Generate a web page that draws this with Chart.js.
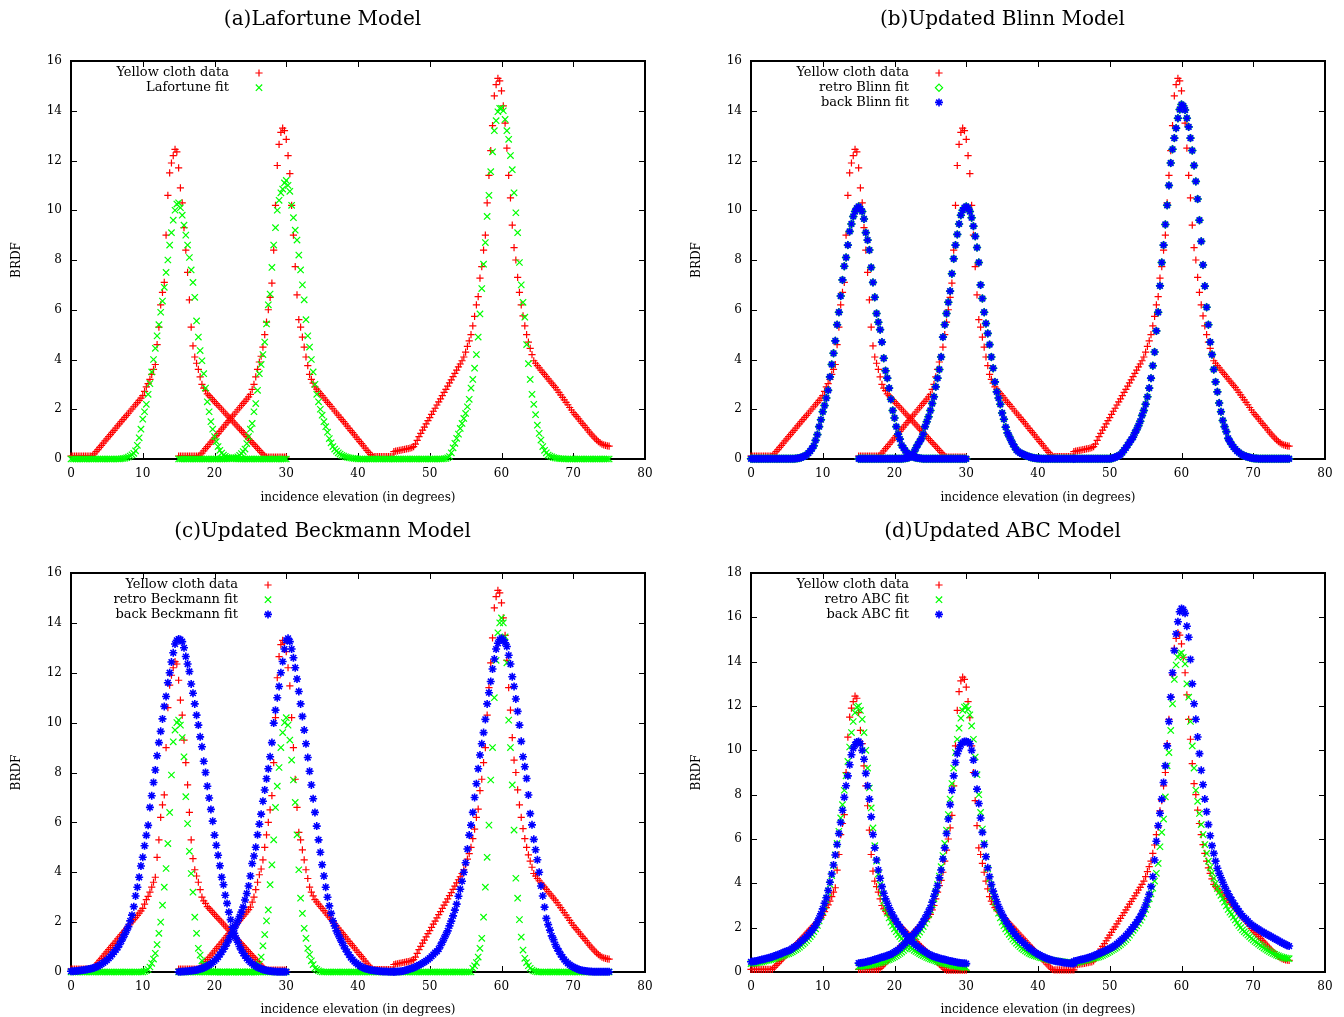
<!DOCTYPE html>
<html>
<head>
<meta charset="utf-8">
<script src="https://cdn.jsdelivr.net/npm/chart.js@4.4.1/dist/chart.umd.min.js"></script>
<style>
  body { margin: 0; background: #fff; width: 1344px; height: 1017px; position: relative; overflow: hidden; }
  .panel { position: absolute; }
</style>
</head>
<body>
<div class="panel" style="left:0;top:0"><canvas id="chartA" width="672" height="505"></canvas></div>
<div class="panel" style="left:680px;top:0"><canvas id="chartB" width="672" height="505"></canvas></div>
<div class="panel" style="left:0;top:512px"><canvas id="chartC" width="672" height="505"></canvas></div>
<div class="panel" style="left:680px;top:512px"><canvas id="chartD" width="672" height="505"></canvas></div>
<script>
// incidence elevation of each measurement sweep (degrees), one row per degree
const anglesSweep1 = [
  0,0.25,0.5,0.75, 1,1.25,1.5,1.75, 2,2.25,2.5,2.75, 3,3.25,3.5,3.75, 4,4.25,4.5,4.75,
  5,5.25,5.5,5.75, 6,6.25,6.5,6.75, 7,7.25,7.5,7.75, 8,8.25,8.5,8.75, 9,9.25,9.5,9.75,
  10,10.25,10.5,10.75, 11,11.25,11.5,11.75, 12,12.25,12.5,12.75, 13,13.25,13.5,13.75, 14,14.25,14.5,14.75,
  15,15.25,15.5,15.75, 16,16.25,16.5,16.75, 17,17.25,17.5,17.75, 18,18.25,18.5,18.75, 19,19.25,19.5,19.75,
  20,20.25,20.5,20.75, 21,21.25,21.5,21.75, 22,22.25,22.5,22.75, 23,23.25,23.5,23.75, 24,24.25,24.5,24.75,
  25,25.25,25.5,25.75, 26,26.25,26.5,26.75, 27,27.25,27.5,27.75, 28,28.25,28.5,28.75, 29,29.25,29.5,29.75,
  30];
const anglesSweep2 = [
  15,15.25,15.5,15.75, 16,16.25,16.5,16.75, 17,17.25,17.5,17.75, 18,18.25,18.5,18.75, 19,19.25,19.5,19.75,
  20,20.25,20.5,20.75, 21,21.25,21.5,21.75, 22,22.25,22.5,22.75, 23,23.25,23.5,23.75, 24,24.25,24.5,24.75,
  25,25.25,25.5,25.75, 26,26.25,26.5,26.75, 27,27.25,27.5,27.75, 28,28.25,28.5,28.75, 29,29.25,29.5,29.75,
  30,30.25,30.5,30.75, 31,31.25,31.5,31.75, 32,32.25,32.5,32.75, 33,33.25,33.5,33.75, 34,34.25,34.5,34.75,
  35,35.25,35.5,35.75, 36,36.25,36.5,36.75, 37,37.25,37.5,37.75, 38,38.25,38.5,38.75, 39,39.25,39.5,39.75,
  40,40.25,40.5,40.75, 41,41.25,41.5,41.75, 42,42.25,42.5,42.75, 43,43.25,43.5,43.75, 44,44.25,44.5,44.75,
  45];
const anglesSweep3 = [
  45,45.25,45.5,45.75, 46,46.25,46.5,46.75, 47,47.25,47.5,47.75, 48,48.25,48.5,48.75, 49,49.25,49.5,49.75,
  50,50.25,50.5,50.75, 51,51.25,51.5,51.75, 52,52.25,52.5,52.75, 53,53.25,53.5,53.75, 54,54.25,54.5,54.75,
  55,55.25,55.5,55.75, 56,56.25,56.5,56.75, 57,57.25,57.5,57.75, 58,58.25,58.5,58.75, 59,59.25,59.5,59.75,
  60,60.25,60.5,60.75, 61,61.25,61.5,61.75, 62,62.25,62.5,62.75, 63,63.25,63.5,63.75, 64,64.25,64.5,64.75,
  65,65.25,65.5,65.75, 66,66.25,66.5,66.75, 67,67.25,67.5,67.75, 68,68.25,68.5,68.75, 69,69.25,69.5,69.75,
  70,70.25,70.5,70.75, 71,71.25,71.5,71.75, 72,72.25,72.5,72.75, 73,73.25,73.5,73.75, 74,74.25,74.5,74.75,
  75];

// Yellow cloth measurements
const clothSweep1 = [
  0.12,0.12,0.12,0.12, 0.12,0.12,0.12,0.12, 0.12,0.12,0.12,0.12, 0.13,0.21,0.3,0.38, 0.47,0.55,0.64,0.73,
  0.81,0.9,0.98,1.07, 1.15,1.24,1.33,1.41, 1.5,1.58,1.67,1.75, 1.84,1.93,2.01,2.1, 2.18,2.27,2.36,2.45,
  2.55,2.72,2.9,3.03, 3.2,3.4,3.6,3.8, 4.6,5.3,6.2,6.7, 7.1,9.0,10.6,11.5, 11.9,12.2,12.45,12.35,
  11.7,10.9,10.3,9.3, 8.4,7.5,6.4,5.3, 4.55,4.1,3.85,3.6, 3.3,3.0,2.85,2.75, 2.62,2.55,2.47,2.39,
  2.31,2.23,2.15,2.08, 2.0,1.92,1.84,1.76, 1.68,1.61,1.53,1.45, 1.37,1.29,1.21,1.14, 1.06,0.98,0.9,0.82,
  0.74,0.66,0.59,0.51, 0.43,0.35,0.27,0.2, 0.12,0.08,0.08,0.08, 0.08,0.08,0.08,0.08, 0.08,0.08,0.08,0.08,
  0.08];
const clothSweep2 = [
  0.12,0.12,0.12,0.12, 0.12,0.12,0.12,0.12, 0.12,0.12,0.12,0.12, 0.16,0.24,0.33,0.42, 0.5,0.59,0.68,0.76,
  0.85,0.94,1.02,1.11, 1.2,1.28,1.37,1.46, 1.54,1.63,1.72,1.8, 1.89,1.98,2.06,2.15, 2.24,2.32,2.41,2.5,
  2.6,2.8,3.0,3.3, 3.6,3.9,4.13,4.5, 5.0,5.5,6.0,6.5, 7.07,8.4,10.2,11.8, 12.65,13.13,13.3,13.2,
  12.85,12.2,11.47,10.2, 9.0,7.73,6.6,5.6, 5.3,4.9,4.5,4.1, 3.75,3.4,3.2,3.05, 2.9,2.81,2.72,2.63,
  2.55,2.46,2.37,2.28, 2.2,2.11,2.02,1.93, 1.85,1.76,1.67,1.58, 1.5,1.41,1.32,1.23, 1.14,1.06,0.97,0.88,
  0.79,0.7,0.62,0.53, 0.44,0.35,0.27,0.18, 0.12,0.1,0.1,0.1, 0.1,0.1,0.1,0.1, 0.1,0.1,0.1,0.1,
  0.1];
const clothSweep3 = [
  0.3,0.32,0.33,0.35, 0.36,0.38,0.39,0.41, 0.42,0.44,0.46,0.5, 0.6,0.75,0.9,1.03, 1.16,1.28,1.41,1.54,
  1.66,1.79,1.92,2.04, 2.17,2.3,2.42,2.55, 2.68,2.8,2.93,3.06, 3.18,3.31,3.44,3.57, 3.7,3.82,3.95,4.1,
  4.3,4.53,4.75,5.0, 5.35,5.73,6.2,6.53, 7.27,7.73,8.4,9.0, 10.3,11.4,12.4,13.4, 14.6,15.05,15.3,15.2,
  14.8,14.2,13.5,12.5, 11.4,10.5,9.4,8.5, 8.0,7.3,6.7,6.2, 5.75,5.35,5.0,4.7, 4.45,4.2,3.95,3.85,
  3.75,3.66,3.57,3.48, 3.4,3.31,3.22,3.13, 3.05,2.96,2.88,2.78, 2.68,2.58,2.48,2.38, 2.28,2.18,2.07,1.97,
  1.87,1.78,1.7,1.61, 1.52,1.43,1.35,1.26, 1.17,1.08,1.0,0.92, 0.84,0.77,0.7,0.65, 0.6,0.57,0.55,0.53,
  0.52];

// (a) Lafortune fit
const lafortuneSweep1 = [
  0,0,0,0, 0,0,0,0, 0,0,0,0, 0,0,0,0, 0,0,0,0,
  0,0,0,0, 0,0,0,0, 0.01,0.02,0.03,0.05, 0.08,0.12,0.17,0.23, 0.33,0.55,0.85,1.2,
  1.6,1.9,2.2,2.6, 3.03,3.5,4.0,4.45, 4.95,5.4,5.9,6.35, 6.9,7.5,8.0,8.6, 9.1,9.6,10.0,10.25,
  10.3,10.1,9.8,9.4, 9.0,8.6,8.1,7.6, 7.1,6.5,5.55,4.9, 4.36,3.95,3.43,2.85, 2.3,1.9,1.5,1.2,
  0.9,0.7,0.5,0.35, 0.24,0.16,0.11,0.07, 0.05,0.03,0.02,0.01, 0,0,0,0, 0,0,0,0,
  0,0,0,0, 0,0,0,0, 0,0,0,0, 0,0,0,0, 0,0,0,0,
  0];
const lafortuneSweep2 = [
  0,0,0,0, 0,0,0,0, 0,0,0,0, 0,0,0,0, 0,0,0,0,
  0,0,0,0, 0,0,0,0, 0.01,0.02,0.03,0.04, 0.06,0.09,0.15,0.22, 0.3,0.4,0.62,0.9,
  1.2,1.43,1.9,2.23, 2.76,3.43,3.8,4.2, 4.7,5.43,6.2,6.63, 7.7,8.6,9.3,10.0, 10.4,10.7,10.85,11.1,
  11.2,11.0,10.76,10.2, 9.7,9.2,8.8,8.2, 7.6,7.0,6.4,5.6, 4.95,4.5,4.0,3.5, 3.0,2.6,2.3,2.0,
  1.76,1.5,1.3,1.08, 0.82,0.65,0.5,0.4, 0.32,0.25,0.2,0.15, 0.12,0.09,0.07,0.05, 0.04,0.03,0.02,0.01,
  0,0,0,0, 0,0,0,0, 0,0,0,0, 0,0,0,0, 0,0,0,0,
  0];
const lafortuneSweep3 = [
  0,0,0,0, 0,0,0,0, 0,0,0,0, 0,0,0,0, 0,0,0,0,
  0,0,0,0, 0,0,0,0, 0.01,0.02,0.05,0.1, 0.25,0.45,0.63,0.83, 1.0,1.23,1.43,1.63,
  1.83,2.1,2.4,2.85, 3.2,3.65,4.2,4.9, 5.83,6.85,7.83,8.7, 9.75,10.6,11.55,12.35, 13.2,13.6,13.96,14.1,
  14.1,14.0,13.65,13.2, 12.85,12.2,11.63,10.7, 9.9,9.1,7.9,7.0, 6.3,5.7,4.6,3.83, 3.2,2.6,2.2,1.78,
  1.36,1.03,0.76,0.5, 0.35,0.25,0.16,0.12, 0.09,0.06,0.04,0.03, 0.02,0.01,0.01,0, 0,0,0,0,
  0,0,0,0, 0,0,0,0, 0,0,0,0, 0,0,0,0, 0,0,0,0,
  0];

// (b) Blinn fit (the retro and back fits coincide)
const blinnSweep1 = [
  0.01,0.01,0.01,0.01, 0.01,0.01,0.01,0.01, 0.01,0.01,0.01,0.01, 0.01,0.01,0.01,0.01, 0.01,0.01,0.01,0.01,
  0.01,0.01,0.01,0.01, 0.01,0.02,0.03,0.04, 0.06,0.09,0.12,0.17, 0.24,0.32,0.42,0.53, 0.75,0.98,1.3,1.58,
  1.9,2.15,2.45,2.76, 3.3,3.8,4.25,4.75, 5.4,5.9,6.55,7.2, 7.75,8.1,8.6,9.15, 9.45,9.75,9.95,10.08,
  10.15,10.05,9.95,9.65, 9.1,8.8,8.4,7.7, 7.1,6.5,5.85,5.5, 5.2,4.7,4.05,3.55, 3.25,2.85,2.4,1.95,
  1.65,1.3,1.0,0.8, 0.55,0.45,0.34,0.25, 0.19,0.14,0.1,0.07, 0.05,0.04,0.03,0.02, 0.01,0.01,0.01,0.01,
  0.01,0.01,0.01,0.01, 0.01,0.01,0.01,0.01, 0.01,0.01,0.01,0.01, 0.01,0.01,0.01,0.01, 0.01,0.01,0.01,0.01,
  0.01];
const blinnSweep2 = [
  0.01,0.01,0.01,0.01, 0.01,0.01,0.01,0.01, 0.01,0.01,0.01,0.01, 0.01,0.01,0.01,0.01, 0.01,0.01,0.01,0.01,
  0.01,0.01,0.01,0.01, 0.01,0.02,0.03,0.04, 0.06,0.1,0.18,0.3, 0.45,0.58,0.7,0.82, 1.0,1.3,1.5,1.7,
  1.95,2.23,2.5,2.9, 3.25,3.6,4.1,4.9, 5.4,5.85,6.3,6.75, 7.45,8.05,8.6,9.03, 9.45,9.8,10.0,10.1,
  10.15,10.1,9.95,9.7, 9.36,8.95,8.5,7.9, 7.0,6.45,5.9,5.45, 5.05,4.6,4.1,3.65, 3.1,2.7,2.45,2.2,
  1.85,1.6,1.28,1.05, 0.9,0.75,0.6,0.48, 0.36,0.3,0.25,0.21, 0.18,0.15,0.12,0.09, 0.07,0.05,0.04,0.03,
  0.02,0.02,0.01,0.01, 0.01,0.01,0.01,0.01, 0.01,0.01,0.01,0.01, 0.01,0.01,0.01,0.01, 0.01,0.01,0.01,0.01,
  0.01];
const blinnSweep3 = [
  0.01,0.01,0.01,0.01, 0.01,0.01,0.01,0.01, 0.01,0.01,0.01,0.01, 0.01,0.01,0.01,0.01, 0.01,0.01,0.01,0.01,
  0.01,0.02,0.04,0.07, 0.1,0.13,0.18,0.26, 0.36,0.45,0.56,0.67, 0.78,0.88,1.05,1.18, 1.34,1.52,1.75,1.95,
  2.2,2.5,2.85,3.25, 3.75,4.3,5.15,5.9, 6.96,7.9,8.6,9.43, 10.2,11.0,11.9,12.45, 12.9,13.3,13.7,14.05,
  14.25,14.2,14.03,13.7, 13.35,12.9,12.4,11.8, 11.16,10.45,9.6,8.75, 7.8,6.95,6.1,5.4, 4.7,4.2,3.6,3.1,
  2.7,2.25,1.9,1.55, 1.3,1.1,0.83,0.7, 0.58,0.48,0.4,0.32, 0.26,0.21,0.16,0.13, 0.1,0.08,0.06,0.04,
  0.03,0.02,0.02,0.01, 0.01,0.01,0.01,0.01, 0.01,0.01,0.01,0.01, 0.01,0.01,0.01,0.01, 0.01,0.01,0.01,0.01,
  0.01];

// (c) Beckmann fits
const beckRetroSweep1 = [
  0,0,0,0, 0,0,0,0, 0,0,0,0, 0,0,0,0, 0,0,0,0,
  0,0,0,0, 0,0,0,0, 0,0,0,0, 0,0,0,0, 0,0,0,0,
  0,0.02,0.05,0.1, 0.2,0.35,0.52,0.75, 1.1,1.55,2.0,2.68, 3.4,4.15,5.15,6.4, 7.9,9.23,9.7,10.0,
  10.1,9.9,9.4,8.63, 7.03,5.95,4.84,3.95, 3.2,2.2,1.55,0.95, 0.68,0.45,0.3,0.18, 0.1,0.06,0.03,0.02,
  0,0,0,0, 0,0,0,0, 0,0,0,0, 0,0,0,0, 0,0,0,0,
  0,0,0,0, 0,0,0,0, 0,0,0,0, 0,0,0,0, 0,0,0,0,
  0];
const beckRetroSweep2 = [
  0,0,0,0, 0,0,0,0, 0,0,0,0, 0,0,0,0, 0,0,0,0,
  0,0,0,0, 0,0,0,0, 0,0,0,0, 0,0,0,0, 0,0,0,0,
  0,0,0,0, 0.15,0.32,0.6,1.05, 1.5,2.05,2.49,3.5, 4.3,5.3,6.6,7.45, 8.2,9.0,9.6,10.0,
  10.2,9.9,9.3,8.5, 7.7,6.8,5.5,4.1, 2.96,2.35,1.75,1.35, 0.95,0.7,0.45,0.3, 0.15,0.1,0.05,0.02,
  0,0,0,0, 0,0,0,0, 0,0,0,0, 0,0,0,0, 0,0,0,0,
  0,0,0,0, 0,0,0,0, 0,0,0,0, 0,0,0,0, 0,0,0,0,
  0];
const beckRetroSweep3 = [
  0,0,0,0, 0,0,0,0, 0,0,0,0, 0,0,0,0, 0,0,0,0,
  0,0,0,0, 0,0,0,0, 0,0,0,0, 0,0,0,0, 0,0,0,0,
  0,0,0,0, 0.15,0.25,0.38,0.6, 0.95,1.35,2.2,3.4, 4.6,5.89,7.7,9.0, 11.0,12.5,13.6,14.0,
  14.2,14.0,13.44,12.4, 10.1,9.0,7.5,5.69, 3.76,2.96,2.1,1.4, 0.88,0.55,0.38,0.25, 0.15,0.08,0.04,0.02,
  0,0,0,0, 0,0,0,0, 0,0,0,0, 0,0,0,0, 0,0,0,0,
  0,0,0,0, 0,0,0,0, 0,0,0,0, 0,0,0,0, 0,0,0,0,
  0];
const beckBackSweep1 = [
  0.03,0.03,0.04,0.04, 0.05,0.06,0.07,0.08, 0.09,0.1,0.12,0.13, 0.15,0.17,0.2,0.23, 0.27,0.32,0.37,0.42,
  0.48,0.55,0.62,0.71, 0.8,0.89,0.98,1.1, 1.24,1.38,1.52,1.67, 1.82,2.05,2.28,2.62, 3.05,3.4,3.8,4.25,
  4.6,5.06,5.48,5.88, 6.6,7.07,7.6,8.1, 8.67,9.2,9.65,10.15, 10.65,11.05,11.6,12.0, 12.43,12.8,13.15,13.3,
  13.35,13.33,13.25,13.0, 12.65,12.35,12.05,11.55, 11.18,10.75,10.3,9.9, 9.43,9.03,8.45,8.0, 7.45,6.98,6.52,6.05,
  5.49,5.08,4.68,4.26, 3.8,3.5,3.08,2.75, 2.4,2.1,1.8,1.55, 1.36,1.2,1.02,0.88, 0.75,0.65,0.55,0.47,
  0.4,0.34,0.28,0.23, 0.19,0.16,0.13,0.1, 0.08,0.06,0.05,0.04, 0.03,0.02,0.02,0.01, 0.01,0.01,0.01,0.01,
  0.01];
const beckBackSweep2 = [
  0.01,0.01,0.02,0.02, 0.03,0.03,0.04,0.05, 0.06,0.07,0.08,0.1, 0.12,0.14,0.17,0.2, 0.24,0.28,0.33,0.39,
  0.45,0.52,0.6,0.7, 0.8,0.91,1.03,1.16, 1.3,1.45,1.6,1.75, 1.9,2.05,2.22,2.4, 2.6,2.89,3.15,3.45,
  3.85,4.35,4.65,5.0, 5.5,5.93,6.33,6.85, 7.3,7.75,8.15,8.63, 9.2,9.98,10.5,11.0, 11.45,12.0,12.45,12.95,
  13.3,13.38,13.25,12.95, 12.6,12.2,11.75,11.25, 10.75,10.25,9.7,9.15, 8.6,8.05,7.5,6.95, 6.4,5.85,5.3,4.8,
  4.3,3.85,3.4,3.0, 2.65,2.35,2.05,1.85, 1.65,1.5,1.35,1.2, 1.05,0.92,0.8,0.69, 0.58,0.5,0.42,0.36,
  0.3,0.25,0.2,0.17, 0.14,0.12,0.1,0.08, 0.07,0.06,0.05,0.04, 0.03,0.03,0.02,0.02, 0.02,0.01,0.01,0.01,
  0.01];
const beckBackSweep3 = [
  0.01,0.01,0.02,0.02, 0.03,0.04,0.06,0.08, 0.1,0.12,0.15,0.17, 0.2,0.24,0.28,0.31, 0.36,0.4,0.45,0.5,
  0.56,0.63,0.7,0.78, 0.83,0.92,1.06,1.2, 1.35,1.5,1.65,1.85, 2.04,2.25,2.48,2.72, 3.04,3.32,3.64,4.0,
  4.38,4.93,5.49,5.89, 6.4,7.0,7.55,8.15, 8.7,9.15,9.6,10.13, 10.75,11.2,11.65,12.15, 12.55,12.95,13.18,13.33,
  13.38,13.32,13.2,13.05, 12.7,12.35,11.84,11.45, 10.95,10.45,9.9,9.25, 8.63,8.23,7.76,7.1, 6.35,5.9,5.32,4.9,
  4.5,4.0,3.45,3.05, 2.6,2.15,1.9,1.68, 1.45,1.3,1.1,0.95, 0.83,0.7,0.6,0.5, 0.42,0.35,0.29,0.24,
  0.2,0.16,0.13,0.1, 0.08,0.06,0.05,0.04, 0.03,0.02,0.02,0.01, 0.01,0.01,0.01,0.01, 0.01,0.01,0.01,0.01,
  0.01];

// (d) ABC fits
const abcRetroSweep1 = [
  0.38,0.39,0.4,0.41, 0.43,0.44,0.46,0.48, 0.5,0.52,0.54,0.56, 0.58,0.6,0.63,0.65, 0.68,0.71,0.74,0.77,
  0.8,0.83,0.87,0.91, 0.96,1.01,1.06,1.12, 1.19,1.26,1.33,1.41, 1.5,1.6,1.7,1.82, 1.95,2.1,2.3,2.5,
  2.72,2.97,3.25,3.57, 3.95,4.35,4.8,5.28, 5.8,6.35,6.95,7.55, 8.2,8.85,9.5,10.15, 10.8,11.3,11.7,11.95,
  12.0,11.8,11.4,10.8, 10.0,9.2,8.3,7.4, 6.5,5.7,5.0,4.42, 3.95,3.55,3.2,2.9, 2.65,2.44,2.25,2.09,
  1.95,1.82,1.7,1.6, 1.5,1.41,1.32,1.24, 1.17,1.1,1.04,0.98, 0.93,0.88,0.83,0.78, 0.74,0.7,0.66,0.62,
  0.59,0.56,0.53,0.5, 0.47,0.44,0.42,0.4, 0.38,0.36,0.34,0.32, 0.3,0.28,0.27,0.25, 0.24,0.23,0.22,0.21,
  0.2];
const abcRetroSweep2 = [
  0.24,0.25,0.26,0.27, 0.28,0.29,0.31,0.32, 0.34,0.36,0.38,0.4, 0.42,0.44,0.47,0.5, 0.53,0.56,0.6,0.64,
  0.68,0.73,0.78,0.84, 0.9,0.97,1.04,1.12, 1.2,1.29,1.38,1.48, 1.58,1.69,1.8,1.92, 2.05,2.2,2.38,2.58,
  2.8,3.04,3.3,3.6, 3.95,4.33,4.75,5.25, 5.8,6.4,7.1,7.8, 8.5,9.2,9.9,10.5, 11.0,11.45,11.8,11.95,
  12.0,11.85,11.6,11.1, 10.5,9.7,8.9,8.0, 7.2,6.45,5.8,5.2, 4.65,4.2,3.8,3.45, 3.15,2.88,2.65,2.44,
  2.25,2.09,1.95,1.82, 1.7,1.59,1.48,1.39, 1.3,1.22,1.14,1.07, 1.01,0.95,0.9,0.85, 0.81,0.77,0.74,0.71,
  0.69,0.66,0.64,0.62, 0.6,0.58,0.56,0.54, 0.53,0.51,0.5,0.49, 0.48,0.47,0.46,0.45, 0.44,0.43,0.43,0.42,
  0.42];
const abcRetroSweep3 = [
  0.4,0.42,0.44,0.46, 0.48,0.5,0.52,0.54, 0.56,0.58,0.6,0.62, 0.64,0.66,0.68,0.71, 0.75,0.79,0.83,0.87,
  0.92,0.97,1.02,1.07, 1.12,1.18,1.24,1.31, 1.38,1.46,1.55,1.66, 1.77,1.88,1.98,2.09, 2.2,2.33,2.47,2.63,
  2.82,3.05,3.3,3.52, 3.78,4.1,4.45,4.9, 5.65,6.3,6.9,7.9, 9.3,9.9,10.9,12.1, 13.2,13.85,14.2,14.35,
  14.4,14.2,13.9,13.0, 12.4,11.3,10.2,9.2, 8.2,7.7,7.15,6.65, 6.2,5.75,5.35,5.0, 4.72,4.47,4.23,4.0,
  3.77,3.6,3.46,3.3, 3.15,2.98,2.82,2.7, 2.6,2.47,2.35,2.22, 2.1,2.0,1.9,1.82, 1.75,1.67,1.6,1.52,
  1.45,1.38,1.32,1.26, 1.2,1.14,1.08,1.03, 0.98,0.93,0.88,0.84, 0.8,0.76,0.73,0.7, 0.67,0.65,0.63,0.61,
  0.6];
const abcBackSweep1 = [
  0.46,0.47,0.49,0.5, 0.52,0.54,0.56,0.58, 0.6,0.62,0.64,0.66, 0.69,0.72,0.75,0.78, 0.81,0.84,0.88,0.91,
  0.94,0.97,1.0,1.06, 1.12,1.17,1.22,1.3, 1.38,1.45,1.52,1.6, 1.68,1.78,1.88,1.99, 2.1,2.25,2.43,2.62,
  2.85,3.1,3.35,3.68, 4.05,4.42,4.83,5.28, 5.75,6.25,6.75,7.3, 7.88,8.4,8.85,9.35, 9.8,10.09,10.25,10.38,
  10.4,10.3,10.0,9.6, 8.96,8.4,7.8,7.0, 6.2,5.6,5.05,4.6, 4.23,3.85,3.55,3.3, 3.1,2.9,2.72,2.57,
  2.42,2.28,2.15,2.03, 1.92,1.82,1.72,1.6, 1.5,1.42,1.35,1.27, 1.2,1.14,1.08,1.02, 0.97,0.91,0.86,0.81,
  0.77,0.73,0.7,0.67, 0.65,0.62,0.6,0.58, 0.56,0.54,0.52,0.5, 0.48,0.46,0.45,0.43, 0.42,0.41,0.4,0.39,
  0.38];
const abcBackSweep2 = [
  0.4,0.41,0.42,0.43, 0.45,0.47,0.49,0.51, 0.54,0.56,0.59,0.61, 0.64,0.66,0.69,0.71, 0.74,0.77,0.8,0.85,
  0.9,0.95,1.0,1.07, 1.15,1.22,1.3,1.38, 1.47,1.55,1.64,1.73, 1.83,1.92,2.02,2.14, 2.28,2.42,2.58,2.73,
  2.9,3.15,3.42,3.65, 3.9,4.25,4.6,5.1, 5.6,6.25,6.9,7.55, 8.2,8.85,9.45,9.85, 10.07,10.25,10.35,10.4,
  10.4,10.38,10.3,10.0, 9.56,8.95,8.25,7.6, 6.95,6.3,5.75,5.2, 4.7,4.3,3.95,3.65, 3.4,3.17,2.95,2.77,
  2.6,2.44,2.3,2.17, 2.05,1.94,1.83,1.72, 1.62,1.53,1.44,1.37, 1.3,1.22,1.15,1.08, 1.02,0.96,0.9,0.85,
  0.8,0.76,0.72,0.68, 0.64,0.61,0.58,0.55, 0.53,0.51,0.49,0.47, 0.46,0.45,0.43,0.42, 0.41,0.4,0.39,0.38,
  0.38];
const abcBackSweep3 = [
  0.48,0.5,0.52,0.54, 0.56,0.58,0.6,0.62, 0.64,0.67,0.7,0.73, 0.76,0.8,0.83,0.87, 0.9,0.94,0.98,1.02,
  1.06,1.1,1.14,1.2, 1.27,1.34,1.41,1.48, 1.55,1.64,1.73,1.83, 1.93,2.03,2.13,2.25, 2.37,2.5,2.65,2.82,
  3.02,3.25,3.5,3.85, 4.3,5.05,5.9,6.6, 7.16,7.8,8.55,9.3, 10.2,11.3,12.4,13.5, 14.5,15.25,15.8,16.25,
  16.4,16.35,16.18,15.6, 15.1,14.1,13.0,12.1, 11.4,10.6,9.85,9.1, 8.45,7.8,7.23,6.65, 6.15,5.7,5.35,5.0,
  4.68,4.45,4.25,4.05, 3.85,3.68,3.53,3.38, 3.25,3.11,2.98,2.86, 2.74,2.63,2.53,2.45, 2.38,2.29,2.2,2.14,
  2.08,2.02,1.97,1.92, 1.87,1.82,1.77,1.72, 1.68,1.64,1.6,1.55, 1.5,1.46,1.42,1.37, 1.32,1.28,1.24,1.2,
  1.17];

const RED = '#ff0000', GREEN = '#00ff00', BLUE = '#0000ff';

Chart.defaults.font.family = "'DejaVu Serif', serif";
Chart.defaults.color = '#000';

function points(sweeps) {
  const out = [];
  sweeps.forEach(([angles, values]) => {
    angles.forEach((a, i) => out.push({ x: a, y: values[i] }));
  });
  return out;
}

const clothPoints = points([[anglesSweep1, clothSweep1], [anglesSweep2, clothSweep2], [anglesSweep3, clothSweep3]]);
const clothSeries = { label: 'Yellow cloth data', data: clothPoints, style: 'cross', color: RED, radius: 3.6, width: 1.2, order: 3 };

function drawMarker(ctx, style, x, y, r) {
  ctx.beginPath();
  if (style === 'cross' || style === 'star') {
    ctx.moveTo(x - r, y); ctx.lineTo(x + r, y);
    ctx.moveTo(x, y - r); ctx.lineTo(x, y + r);
  }
  if (style === 'crossRot' || style === 'star') {
    const d = r * Math.SQRT1_2;
    ctx.moveTo(x - d, y - d); ctx.lineTo(x + d, y + d);
    ctx.moveTo(x + d, y - d); ctx.lineTo(x - d, y + d);
  }
  if (style === 'rectRot') {
    ctx.moveTo(x - r, y); ctx.lineTo(x, y - r); ctx.lineTo(x + r, y); ctx.lineTo(x, y + r);
    ctx.closePath();
  }
  ctx.stroke();
}

// gnuplot style frame: box, inward ticks on all sides, key in the top left
const framePlugin = {
  id: 'frame',
  beforeDatasetsDraw(chart) {
    const { ctx, chartArea: a, scales: { x, y } } = chart;
    ctx.save();
    ctx.strokeStyle = '#000';
    ctx.lineWidth = 1;
    ctx.beginPath();
    x.ticks.forEach(t => {
      const px = Math.round(x.getPixelForValue(t.value)) + 0.5;
      ctx.moveTo(px, a.bottom); ctx.lineTo(px, a.bottom - 6);
      ctx.moveTo(px, a.top); ctx.lineTo(px, a.top + 6);
    });
    y.ticks.forEach(t => {
      const py = Math.round(y.getPixelForValue(t.value)) + 0.5;
      ctx.moveTo(a.left, py); ctx.lineTo(a.left + 6, py);
      ctx.moveTo(a.right, py); ctx.lineTo(a.right - 6, py);
    });
    ctx.stroke();
    ctx.lineWidth = 2;
    ctx.strokeRect(a.left, a.top, a.right - a.left, a.bottom - a.top);
    ctx.restore();
  },
  afterDatasetsDraw(chart, args, opts) {
    const { ctx, chartArea: a } = chart;
    ctx.save();
    ctx.font = "13px 'DejaVu Serif', serif";
    ctx.textAlign = 'right';
    ctx.textBaseline = 'middle';
    chart.data.datasets.forEach((ds, i) => {
      const yy = a.top + 12 + i * 14.7;
      ctx.fillStyle = '#000';
      ctx.fillText(ds.label, a.left + opts.textRight, yy);
      ctx.strokeStyle = ds.pointBorderColor;
      ctx.lineWidth = ds.pointBorderWidth;
      drawMarker(ctx, ds.pointStyle, a.left + opts.textRight + 30, yy, ds.pointRadius);
    });
    ctx.restore();
  }
};

function makePanel(id, title, yMax, xAxisHeight, keyRight, series) {
  new Chart(document.getElementById(id), {
    type: 'scatter',
    data: {
      datasets: series.map(s => ({
        label: s.label,
        data: s.data,
        showLine: false,
        clip: false,
        order: s.order,
        pointStyle: s.style,
        pointRadius: s.radius,
        pointHoverRadius: s.radius,
        pointBorderColor: s.color,
        pointBackgroundColor: s.fill || s.color,
        pointBorderWidth: s.width,
        borderColor: s.color,
        backgroundColor: s.color
      }))
    },
    options: {
      responsive: false,
      animation: false,
      events: [],
      layout: { padding: { left: 0, right: 27, top: 0, bottom: 0 } },
      plugins: {
        legend: { display: false },
        tooltip: { enabled: false },
        title: {
          display: true,
          text: title,
          color: '#000',
          font: { size: 20, weight: 'normal' },
          padding: { top: 8, bottom: 29 }
        },
        frame: { textRight: keyRight }
      },
      scales: {
        x: {
          type: 'linear',
          min: 0, max: 80,
          grid: { display: false, drawTicks: false },
          border: { display: false },
          ticks: { stepSize: 10, padding: 8, font: { size: 12 }, maxRotation: 0, autoSkip: false },
          title: { display: true, text: 'incidence elevation (in degrees)', font: { size: 12 }, padding: { top: 0, bottom: 0 } },
          afterFit(scale) { scale.height = xAxisHeight; }
        },
        y: {
          min: 0, max: yMax,
          grid: { display: false, drawTicks: false },
          border: { display: false },
          ticks: { stepSize: 2, padding: 9, font: { size: 12 } },
          title: { display: true, text: 'BRDF', font: { size: 12 }, padding: { top: 10, bottom: 0 } },
          afterFit(scale) { scale.width = 71; }
        }
      }
    },
    plugins: [framePlugin]
  });
}

makePanel('chartA', '(a)Lafortune Model', 16, 46, 158, [
  Object.assign({}, clothSeries, { order: 2 }),
  { label: 'Lafortune fit', data: points([[anglesSweep1, lafortuneSweep1], [anglesSweep2, lafortuneSweep2], [anglesSweep3, lafortuneSweep3]]), style: 'crossRot', color: GREEN, radius: 4.5, width: 1.2, order: 1 }
]);

makePanel('chartB', '(b)Updated Blinn Model', 16, 46, 158, [
  clothSeries,
  { label: 'retro Blinn fit', data: points([[anglesSweep1, blinnSweep1], [anglesSweep2, blinnSweep2], [anglesSweep3, blinnSweep3]]), style: 'rectRot', color: GREEN, fill: 'rgba(0,0,0,0)', radius: 3.6, width: 1.2, order: 2 },
  { label: 'back Blinn fit', data: points([[anglesSweep1, blinnSweep1], [anglesSweep2, blinnSweep2], [anglesSweep3, blinnSweep3]]), style: 'star', color: BLUE, radius: 4, width: 1.6, order: 1 }
]);

makePanel('chartC', '(c)Updated Beckmann Model', 16, 45, 167, [
  clothSeries,
  { label: 'retro Beckmann fit', data: points([[anglesSweep1, beckRetroSweep1], [anglesSweep2, beckRetroSweep2], [anglesSweep3, beckRetroSweep3]]), style: 'crossRot', color: GREEN, radius: 4.5, width: 1.2, order: 2 },
  { label: 'back Beckmann fit', data: points([[anglesSweep1, beckBackSweep1], [anglesSweep2, beckBackSweep2], [anglesSweep3, beckBackSweep3]]), style: 'star', color: BLUE, radius: 4, width: 1.6, order: 1 }
]);

makePanel('chartD', '(d)Updated ABC Model', 18, 45, 158, [
  clothSeries,
  { label: 'retro ABC fit', data: points([[anglesSweep1, abcRetroSweep1], [anglesSweep2, abcRetroSweep2], [anglesSweep3, abcRetroSweep3]]), style: 'crossRot', color: GREEN, radius: 4.5, width: 1.2, order: 2 },
  { label: 'back ABC fit', data: points([[anglesSweep1, abcBackSweep1], [anglesSweep2, abcBackSweep2], [anglesSweep3, abcBackSweep3]]), style: 'star', color: BLUE, radius: 4, width: 1.6, order: 1 }
]);
</script>
</body>
</html>
